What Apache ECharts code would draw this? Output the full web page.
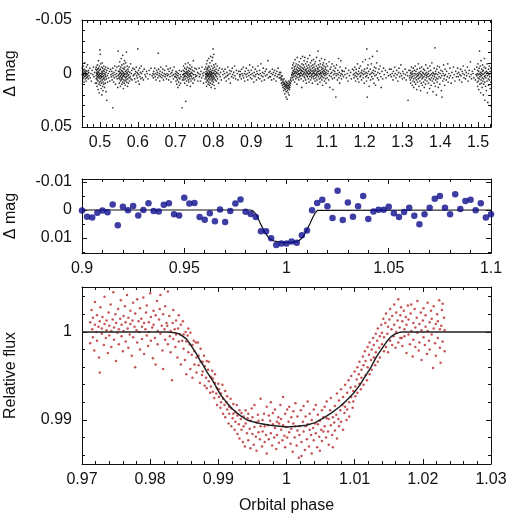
<!DOCTYPE html>
<html>
<head>
<meta charset="utf-8">
<script src="https://cdn.jsdelivr.net/npm/echarts@6/dist/echarts.min.js"></script>
<style>
  html, body { margin: 0; padding: 0; background: #fff; }
  #chart { width: 510px; height: 517px; }
</style>
</head>
<body>
<div id="chart"></div>
<script>
// top panel: [phase * 1000, delta mag in mmag]
const topPoints = [
  [452,-2],[452,3],[453,-5],[453,1],[454,0],[454,6],[455,-3],[455,-1],[456,4],[456,-7],[457,2],[457,1],[458,-4],[458,8],[459,0],[459,-2],[460,3],[460,-10],[461,5],[461,-1],[462,1],[462,-3],[463,7],[463,2],[464,-6],[464,0],[465,-2],[465,4],[466,1],[467,-8],[467,3],[468,0],[469,5],[469,-3],[470,-1],[471,2],[473,-5],[474,4],[476,0],[477,7],[479,-3],[481,1],[483,-6],[484,3],[486,-1],[488,9],[489,-4],
  [490,2],[490,-6],[490,5],[491,0],[491,9],[491,-3],[492,-1],[492,4],[492,12],[493,-8],[493,1],[493,6],[494,3],[494,-4],[494,0],[495,15],[495,-2],[495,7],[496,-12],[496,2],[496,-5],[497,10],[497,4],[497,-1],[498,1],[498,18],[498,-7],[499,3],[499,-3],[499,8],[500,-22],[500,0],[500,5],[501,-18],[501,11],[501,-4],[502,2],[502,7],[502,-9],[503,14],[503,0],[503,4],[504,-6],[504,3],[504,9],[505,-2],[505,20],[505,1],[506,6],[506,-10],[506,-1],[507,12],[507,3],[507,-5],[508,0],[508,8],[508,16],[509,-3],[509,5],[510,2],[510,-7],[510,10],[511,4],[511,-2],[512,13],[512,0],[513,-4],[513,6],[514,1],[514,9],[515,-6],[515,3],[516,17],[516,-1],[517,5],[518,25],[518,-3],[519,2],[520,8],[521,-5],[522,0],[523,4],[525,-2],[526,7],[528,-4],[529,1],
  [530,3],[531,-2],[532,6],[533,0],[534,32],[534,-5],[535,2],[536,8],[537,-1],[538,4],[539,-7],[540,1],[541,10],[542,-3],[543,3],[544,0],[545,-6],[546,5],[547,13],[548,-21],[548,2],[549,-2],
  [550,1],[550,-7],[550,4],[551,9],[551,-2],[552,0],[552,5],[552,-11],[553,3],[553,-4],[554,7],[554,-1],[554,12],[555,-6],[555,2],[556,0],[556,-14],[556,6],[557,4],[557,-3],[558,10],[558,1],[558,-8],[559,-2],[559,5],[560,3],[560,-17],[560,8],[561,0],[561,-5],[562,14],[562,2],[562,-1],[563,-9],[563,6],[564,1],[564,-4],[564,9],[565,-12],[565,3],[566,0],[566,7],[566,-6],[567,11],[567,-2],[568,4],[568,-10],[569,1],[569,6],[570,-20],[570,-3],[570,3],[571,8],[571,-1],[572,0],[572,-7],[573,5],[573,12],[574,-4],[574,2],[575,-2],[575,9],[576,1],[577,-6],[577,4],[578,7],[579,-1],[580,3],[581,-9],[582,5],[583,0],[584,-3],[585,6],[587,-5],[588,2],
  [590,1],[591,-4],[592,5],[593,0],[594,-2],[595,8],[596,-6],[597,2],[598,-1],[599,4],[600,-23],[600,0],[601,7],[602,-3],[603,1],[604,10],[605,-5],[606,3],[607,-1],[608,5],[609,-7],[610,0],[612,4],[613,-2],[615,6],[617,-4],[619,1],[621,3],[623,-2],[625,0],[627,5],[630,-3],[632,1],[635,-5],[638,2],
  [640,0],[641,4],[642,-2],[643,1],[645,-5],[646,3],[647,0],[648,6],[650,-3],[651,1],[652,-1],[653,4],[654,-19],[655,-4],[656,2],[657,0],[658,7],[659,-2],[660,3],[661,-6],[662,1],[664,4],[665,-1],[666,-4],[667,2],[668,6],[670,0],[671,-3],[672,3],[673,1],[675,-7],[676,5],[677,0],[678,2],[680,-4],[681,1],[682,6],[683,-2],[685,3],[686,-5],[687,0],[688,8],[690,-1],[691,2],[692,-3],[694,5],[695,1],[696,-6],[698,3],[699,0],
  [700,3],[701,7],[701,-2],[702,1],[703,10],[703,4],[704,-1],[705,6],[706,13],[706,2],[707,0],[708,8],[709,4],[710,11],[710,-3],[711,5],[712,1],[713,9],[714,3],[715,-2],[717,32],[718,6],[719,1],
  [720,-3],[720,4],[721,1],[721,-7],[722,6],[722,0],[723,-2],[723,3],[724,9],[724,-5],[725,0],[725,2],[726,-9],[726,5],[727,26],[727,-1],[728,3],[728,-4],[729,7],[729,0],[730,-2],[730,11],[731,1],[731,-6],[732,4],[732,-1],[733,-10],[733,2],[734,6],[734,-3],[735,0],[735,8],[736,-5],[736,3],[737,1],[737,-2],[738,5],[738,-8],[739,0],[739,12],[740,-4],[740,2],[741,7],[742,-1],[742,3],[743,-6],[744,0],[744,5],[745,-3],[746,9],[747,-12],[747,1],[748,4],[749,-2],[750,6],[751,-5],[752,1],[753,3],[755,-4],[756,2],[758,-1],[759,7],
  [761,0],[762,-5],[763,3],[765,1],[766,7],[767,-2],[769,4],[770,-6],[771,0],[773,2],[774,9],[775,-1],[777,-4],[778,5],[779,1],
  [780,3],[780,-6],[780,0],[781,8],[781,-2],[781,4],[782,-9],[782,1],[782,12],[783,-4],[783,6],[783,0],[784,2],[784,-12],[784,-1],[785,7],[785,3],[785,-5],[786,10],[786,0],[786,-3],[787,-7],[787,5],[787,1],[788,-14],[788,2],[788,8],[789,-2],[789,4],[789,-6],[790,0],[790,11],[790,-1],[791,-10],[791,6],[791,3],[792,1],[792,-4],[792,9],[793,-16],[793,2],[793,-2],[794,5],[794,13],[794,0],[795,-7],[795,3],[795,-1],[796,7],[796,-12],[796,1],[797,-3],[797,10],[797,4],[798,-15],[798,0],[798,6],[799,-23],[799,2],[799,-5],[800,8],[800,-1],[800,3],[801,-18],[801,5],[801,-8],[802,0],[802,11],[802,-3],[803,4],[803,-6],[804,1],[804,14],[805,-2],[805,6],[806,-9],[806,2],[807,0],[807,-4],[808,7],[809,-1],[809,3],[810,-7],[811,5],[812,0],[813,-3],[814,9],[815,1],[816,-5],[818,3],[819,-1],[821,6],[823,-4],[825,1],[827,-2],[829,4],
  [830,0],[831,-4],[833,3],[834,7],[836,-1],[837,2],[838,-6],[840,1],[841,5],[843,-3],[844,0],[845,9],[847,-2],[848,3],[850,-5],[851,1],[853,4],[854,-1],[856,-7],[857,2],[859,5],[861,-3],[863,0],[865,6],[867,-2],[869,1],
  [870,3],[871,-2],[872,1],[874,5],[875,-4],[876,0],[878,2],[879,-6],[880,4],[882,0],[883,7],[884,-2],[886,1],[887,-5],[888,3],[890,0],[891,6],[892,-3],[894,2],[895,-1],[896,-8],[898,4],[899,1],[900,-3],[902,5],[903,0],[904,-6],[906,2],[907,8],[908,-1],[910,3],[911,-4],[912,1],[914,6],[915,-2],[916,0],[918,-7],[919,4],[920,1],[922,-3],[923,5],[924,0],[926,-9],[927,2],[928,7],[930,-1],[931,3],[932,-5],[934,0],[935,6],[937,-2],[938,2],[940,-4],[942,1],[944,-12],[945,4],[947,-1],[949,3],
  [950,-2],[951,3],[953,0],[954,6],[956,-4],[957,1],[959,-1],[960,5],[962,-3],[963,2],[965,0],[966,7],[968,-2],[969,3],[971,-5],[972,1],[974,4],[975,-1],
  [976,1],[977,4],[978,-1],[979,6],[980,3],[980,9],[981,5],[982,11],[982,2],[983,8],[984,13],[984,6],[985,10],[986,16],[986,8],[987,12],[987,5],[988,14],[988,10],[989,19],[989,9],[990,12],[990,15],[991,7],[991,11],[992,22],[992,13],[993,10],[993,17],[994,8],[994,12],[995,14],[995,24],[996,11],[996,16],[997,9],[997,13],[998,18],[998,11],[999,7],[999,14],[1000,12],[1000,20],[1001,10],[1001,15],[1002,8],[1002,13],[1003,11],[1004,6],[1004,9],[1005,4],[1006,7],[1007,1],
  [1008,2],[1008,-5],[1009,-1],[1009,4],[1010,-8],[1010,0],[1011,-3],[1011,6],[1012,1],[1012,-10],[1013,-2],[1013,3],[1014,-6],[1014,0],[1015,8],[1015,-4],[1016,-1],[1016,-13],[1017,2],[1017,-7],[1018,5],[1018,-2],[1019,0],[1019,-9],[1020,-4],[1020,3],[1021,-1],[1021,10],[1022,-6],[1022,-15],[1023,1],[1023,-3],[1024,4],[1024,-8],[1025,-2],[1025,0],[1026,6],[1026,-5],[1027,-11],[1027,1],[1028,-3],[1028,3],[1029,-7],[1029,0],[1030,2],[1030,-4],[1031,-14],[1031,-1],[1032,5],[1032,-6],[1033,0],[1033,-3],[1034,13],[1034,-9],[1035,-2],[1035,2],[1036,-5],[1036,-16],[1037,1],[1037,-2],[1038,7],[1038,-8],[1039,-4],[1039,0],[1040,-12],[1040,3],[1041,-1],[1041,-6],[1042,4],[1042,-15],[1043,-3],[1043,1],[1044,-9],[1044,6],[1045,0],[1045,-4],[1046,-2],[1046,9],[1047,-7],[1047,2],[1048,-11],[1048,-1],[1049,3],[1049,-5],[1050,0],[1050,-14],[1051,5],[1051,-3],[1052,-8],[1052,1],[1053,-2],[1053,8],[1054,-6],[1054,0],[1055,-17],[1055,3],[1056,-1],[1056,-4],[1057,6],[1057,-10],[1058,0],[1058,-3],[1059,2],[1059,-7],[1060,-12],[1060,4],[1061,-2],[1061,1],[1062,-5],[1062,9],[1063,0],[1063,-8],[1064,3],[1064,-3],[1065,-1],[1065,-13],[1066,5],[1066,-6],[1067,0],[1067,2],[1068,-9],[1068,-2],[1069,7],[1069,-4],[1070,1],[1070,-11],[1071,-3],[1071,4],[1072,-7],[1072,0],[1073,2],[1073,-15],[1074,-1],[1074,6],[1075,-5],[1075,1],[1076,-2],[1076,10],[1077,-21],[1077,-4],[1078,3],[1078,-8],[1079,0],[1079,-2],[1080,5],[1080,-6],[1081,-12],[1081,1],[1082,-3],[1082,8],[1083,0],[1083,-9],[1084,4],[1084,-1],[1085,-6],[1085,2],[1086,-14],[1086,0],[1087,6],[1087,-4],[1088,-2],[1088,3],[1089,-8],[1089,11],[1090,-1],[1090,-5],[1091,1],[1091,-10],[1092,4],[1092,-3],[1093,0],[1093,-7],[1094,7],[1094,-2],[1095,-13],[1095,2],[1096,-4],[1096,0],[1097,5],[1097,-6],[1098,-1],[1098,9],[1099,-9],[1099,1],[1100,-3],[1101,4],[1102,-7],[1103,0],[1104,-2],[1105,6],[1106,-11],[1107,2],[1108,13],[1109,-4],[1110,0],[1111,-6],[1112,3],[1113,-1],[1114,-9],[1115,5],[1116,15],[1117,-3],[1118,1],[1119,-7],[1120,4],[1121,-2],[1122,0],[1123,-5],[1124,22],[1125,2],[1126,-8],[1127,0],[1128,6],[1129,-3],[1130,1],[1131,-14],[1132,4],[1133,-1],[1134,9],[1135,-6],[1136,2],[1137,-12],[1138,0],[1139,5],[1140,-3],[1141,1],[1142,-2],
  [1144,3],[1146,-2],[1148,1],[1150,-5],[1152,4],[1154,0],[1156,7],[1158,-3],[1160,2],[1163,-1],[1165,5],[1168,-4],
  [1170,1],[1171,-3],[1172,4],[1173,0],[1174,-6],[1175,2],[1176,7],[1177,-1],[1178,-4],[1179,3],[1180,0],[1181,-9],[1182,5],[1183,1],[1184,-2],[1185,8],[1186,-5],[1187,0],[1188,3],[1189,-7],[1190,2],[1191,-1],[1192,6],[1193,-3],[1194,0],[1195,-11],[1196,4],[1197,1],[1198,-2],[1199,9],[1200,-4],[1201,0],[1202,-13],[1203,3],[1204,-1],[1205,7],[1206,-23],[1206,2],[1207,22],[1207,-5],[1208,0],[1209,-8],[1210,4],[1211,-2],[1212,12],[1213,-14],[1214,1],[1215,-4],[1216,6],[1217,0],[1218,-9],[1219,3],[1220,-1],[1221,-16],[1222,5],[1223,-3],[1224,0],[1225,9],[1226,-6],[1227,2],[1228,-2],[1229,11],[1230,-5],[1231,1],[1232,-10],[1233,-21],[1234,4],[1235,-1],[1237,6],[1238,-4],[1240,0],[1241,-7],[1243,3],[1244,13],[1246,-2],[1248,5],[1250,-5],[1252,1],[1255,-3],[1257,4],[1260,-1],[1263,2],[1266,-4],
  [1268,1],[1270,-4],[1271,3],[1273,0],[1275,6],[1276,-2],[1278,2],[1280,-6],[1281,0],[1283,4],[1285,-3],[1286,1],[1288,7],[1290,-1],[1291,-5],[1293,3],[1295,0],[1296,-8],[1298,2],[1300,5],[1301,-2],[1303,0],[1305,4],[1307,-4],[1308,1],[1310,6],[1312,-1],[1314,2],[1315,25],[1317,-3],[1319,4],
  [1320,2],[1320,-3],[1321,6],[1322,0],[1322,9],[1323,-1],[1324,4],[1324,-6],[1325,1],[1326,11],[1326,3],[1327,-2],[1328,7],[1328,0],[1329,-5],[1330,5],[1330,13],[1331,2],[1332,-3],[1332,8],[1333,0],[1334,4],[1334,-7],[1335,10],[1336,1],[1336,-2],[1337,6],[1338,15],[1338,3],[1339,-4],[1340,0],[1340,8],[1341,2],[1342,-9],[1342,5],[1343,1],[1344,12],[1344,-1],[1345,4],[1346,-5],[1346,7],[1347,0],[1348,16],[1348,3],[1349,-2],[1350,9],[1350,1],[1351,-6],[1352,5],[1352,2],[1353,11],[1354,-1],[1354,4],[1355,0],[1356,8],[1356,-4],[1357,3],[1358,13],[1359,1],[1359,-3],[1360,6],[1361,0],[1361,10],[1362,-8],[1363,4],[1363,2],[1364,-1],[1365,7],[1366,18],[1366,1],[1367,-5],[1368,3],[1369,9],[1369,0],[1370,-2],[1371,5],[1372,14],[1372,2],[1373,-7],[1374,6],[1375,1],[1375,-3],[1376,11],[1377,4],[1378,0],[1378,-10],[1379,7],[1380,2],[1381,17],[1381,-1],[1382,5],[1383,0],[1384,-5],[1384,9],[1385,3],[1386,-24],[1386,1],[1387,12],[1388,-2],[1388,6],[1389,0],[1390,20],[1390,4],[1391,-4],[1392,8],[1393,1],[1393,-7],[1394,5],[1395,13],[1396,-1],[1397,3],[1398,-6],[1399,10],[1400,0],[1401,4],[1402,-3],[1403,16],[1404,2],[1405,22],[1406,-2],[1407,7],[1408,0],[1409,-8],[1410,5],[1411,2],[1412,11],[1413,-4],[1414,1],[1416,6],[1417,-2],[1419,3],[1420,-9],[1421,8],[1423,0],[1424,4],[1426,-5],[1427,2],[1429,9],[1431,-1],[1433,4],[1435,-6],[1437,1],[1439,7],[1441,-2],[1443,3],
  [1445,0],[1446,-5],[1448,3],[1449,-1],[1451,6],[1452,1],[1454,-4],[1455,2],[1457,8],[1458,-2],[1460,0],[1461,-7],[1463,4],[1464,1],[1466,-3],[1467,5],[1469,-1],[1470,2],[1472,-6],[1474,7],[1475,0],[1477,-3],[1478,3],[1480,-11],[1482,1],[1483,5],[1485,-2],[1487,0],[1489,4],[1491,-4],[1493,6],[1495,1],
  [1497,2],[1497,-6],[1498,8],[1498,0],[1499,-3],[1499,12],[1500,4],[1500,-9],[1501,1],[1501,7],[1502,-2],[1502,15],[1503,5],[1503,-5],[1504,-21],[1504,0],[1505,10],[1505,3],[1506,-7],[1506,1],[1507,18],[1507,-1],[1508,6],[1508,-12],[1509,2],[1509,9],[1510,-4],[1510,0],[1511,13],[1511,4],[1512,-2],[1512,-8],[1513,7],[1513,1],[1514,20],[1514,-3],[1515,5],[1515,10],[1516,-6],[1516,0],[1517,3],[1517,-14],[1518,25],[1518,8],[1519,-1],[1519,2],[1520,12],[1520,-5],[1521,4],[1522,-2],[1522,16],[1523,0],[1524,7],[1524,-9],[1525,2],[1526,27],[1526,-1],[1527,5],[1528,-4],[1528,11],[1529,1],[1530,-7],[1530,6],[1531,3],[1532,14],[1532,-2],[1533,30],[1533,0],[1534,8],[1534,-5]
];

// middle panel: binned points, delta mag in mmag
const midPhase = [
  0.9, 0.9025, 0.905, 0.9075, 0.91, 0.9125, 0.915, 0.9175, 0.92, 0.9225, 0.925, 0.9275, 0.93, 0.9325, 0.935, 0.9375,
  0.94, 0.9425, 0.945, 0.9475, 0.95, 0.9525, 0.955, 0.9575, 0.96, 0.9625, 0.965, 0.9675, 0.97, 0.9725, 0.975, 0.9775,
  0.98, 0.9825, 0.985, 0.9875, 0.99, 0.9925, 0.995, 0.9975, 1.0, 1.0025, 1.005, 1.0075, 1.01, 1.0125, 1.015, 1.0175,
  1.02, 1.0225, 1.025, 1.0275, 1.03, 1.0325, 1.035, 1.0375, 1.04, 1.0425, 1.045, 1.0475, 1.05, 1.0525, 1.055, 1.0575,
  1.06, 1.0625, 1.065, 1.0675, 1.07, 1.0725, 1.075, 1.0775, 1.08, 1.0825, 1.085, 1.0875, 1.09, 1.0925, 1.095, 1.0975, 1.1
];
const midDmag = [
  0.2, 2.4, 2.7, 1.0, 0.2, 0.8, -2.0, 5.5, -1.2, 0.1, -1.4, 2.0, 0.0, -2.4, 0.4, 0.5,
  -1.9, -2.4, 1.5, 2.0, -4.4, -2.3, -2.5, 2.5, 3.5, 1.2, 4.0, -0.2, 4.3, 0.4, -2.3, -3.8,
  0.6, 1.4, 2.5, 7.6, 7.6, 10.1, 12.5, 12.0, 12.0, 11.3, 11.7, 9.0, 7.3, 0.1, -2.5, -3.7,
  -1.3, 2.9, -6.9, 3.6, -2.7, 2.4, -1.3, -5.0, 3.2, 0.5, -0.1, -0.1, -1.2, 1.2, 2.5, 0.7,
  -0.8, 2.1, 5.1, 1.5, -0.8, -4.0, -5.0, -0.8, 1.5, -5.6, -0.4, -3.2, -3.7, 0.1, -2.4, 2.7, 1.5
];
const midModelPhase = [0.9, 0.9825, 0.9832, 0.9838, 0.9845, 0.9852, 0.986, 0.9872, 0.9885, 0.9897, 0.991, 0.9921, 0.9935, 0.9954, 0.9978, 1.0002, 1.0025, 1.005, 1.0068, 1.0082, 1.0098, 1.0115, 1.0128, 1.0139, 1.0146, 1.0151, 1.0156, 1.1];
const midModelDmag = [0, 0, 0.1, 0.4, 0.9, 1.7, 2.9, 4.8, 6.6, 8.3, 9.6, 10.4, 11.0, 11.3, 11.6, 11.7, 11.6, 11.3, 10.6, 9.5, 7.3, 4.8, 2.8, 1.2, 0.5, 0.15, 0, 0];

// bottom panel: [phase * 10000, relative flux * 10000]
const botPoints = [
  [9712,10011],[9712,9987],[9714,10025],[9715,10003],[9716,9994],[9716,10016],[9718,9979],[9719,10008],[9719,10034],[9721,10000],[9722,9990],[9722,10019],[9724,10006],[9725,9971],[9726,9954],[9726,10012],[9727,10028],[9729,9998],[9729,10004],[9730,10017],[9732,9985],[9733,10009],[9733,10040],[9735,9993],[9736,10013],[9736,10002],[9738,9976],[9739,10022],[9740,10007],[9740,9996],[9742,10031],[9743,10001],[9743,9983],[9745,10014],[9746,10045],[9747,10005],[9747,9991],[9749,10020],[9750,9967],[9750,10010],[9752,9999],[9753,10026],[9754,10003],[9754,9986],[9756,10015],[9757,10036],[9758,9995],[9758,10008],[9760,9978],[9761,10018],[9761,10001],[9763,10029],[9764,9989],[9764,10011],[9766,10042],[9767,10004],[9768,9982],[9768,10016],[9770,9997],[9771,10024],[9771,10009],[9773,9973],[9774,10013],[9775,10033],[9775,9994],[9777,10006],[9778,9960],[9778,10021],[9780,10002],[9781,10037],[9781,9988],[9783,10012],[9784,10000],[9785,10027],[9785,9980],[9787,10015],[9788,10006],[9788,9992],[9790,10039],[9791,10010],[9791,9975],[9793,10003],[9794,10022],[9795,9996],[9795,10030],[9797,9984],[9798,10011],[9798,10000],[9800,10044],[9801,9990],[9801,10017],[9803,10005],[9804,9970],[9805,10024],[9805,10008],[9807,9993],[9808,10019],[9808,9963],[9810,10035],[9811,10001],[9811,9986],[9813,10014],[9814,10026],[9815,9998],[9815,10042],[9817,10007],[9818,9979],[9819,9958],[9819,10020],[9821,10003],[9822,9991],[9822,10029],[9824,10010],
  [9825,10007],[9826,10046],[9826,9986],[9828,10018],[9829,9995],[9830,10001],[9830,9977],[9832,9945],[9833,10010],[9834,9992],[9834,10025],[9836,10003],[9837,9983],[9838,10013],[9838,9997],[9840,9971],[9841,10004],[9842,10019],[9842,9989],[9844,9997],[9845,9963],[9845,10008],[9847,9990],[9848,10012],[9849,9981],[9849,9997],[9851,9968],[9852,10000],[9853,9989],[9853,9952],[9855,9996],[9856,10004],[9856,9977],[9858,9986],[9859,9958],[9859,9999],[9861,9974],[9862,9985],[9862,9948],[9864,9990],[9865,9963],[9865,9978],[9867,9988],[9868,9954],[9868,9971],[9870,9988],[9871,9962],[9871,9973],[9873,9942],[9874,9966],[9874,9981],[9876,9951],[9877,9966],[9877,9955],[9879,9973],[9880,9939],[9880,9961],[9882,9948],[9883,9967],[9883,9936],[9885,9957],[9886,9944],[9886,9966],[9888,9931],[9889,9949],[9889,9938],[9891,9956],[9892,9932],[9892,9947],[9894,9925],[9895,9942],[9895,9952],[9897,9930],[9898,9936],[9898,9917],[9900,9941],[9901,9926],[9901,9935],[9903,9914],[9904,9930],[9904,9920],[9906,9940],[9907,9907],[9907,9924],[9909,9917],[9910,9933],[9910,9903],[9912,9920],[9913,9912],[9913,9927],[9915,9896],[9916,9915],[9916,9907],[9918,9924],[9919,9893],[9919,9913],[9921,9902],[9922,9918],[9922,9907],[9924,9889],[9925,9909],[9925,9898],[9927,9917],[9928,9884],[9928,9905],[9930,9895],[9931,9911],[9931,9879],[9933,9901],[9934,9889],[9934,9908],[9936,9875],[9937,9893],[9937,9904],[9939,9870],[9940,9896],[9940,9911],[9942,9885],
  [9943,9902],[9944,9877],[9944,9907],[9946,9890],[9947,9868],[9947,9899],[9949,9913],[9950,9884],[9950,9903],[9952,9872],[9953,9892],[9953,9917],[9955,9881],[9956,9897],[9956,9865],[9958,9906],[9959,9886],[9959,9899],[9961,9878],[9962,9893],[9962,9924],[9964,9870],[9965,9900],[9965,9887],[9967,9907],[9968,9875],[9968,9893],[9970,9883],[9971,9915],[9971,9862],[9973,9894],[9974,9905],[9974,9878],[9976,9899],[9977,9885],[9977,9920],[9979,9871],[9980,9895],[9980,9908],[9982,9880],[9983,9891],[9983,9912],[9985,9867],[9986,9898],[9986,9883],[9988,9903],[9989,9874],[9989,9896],[9991,9917],[9992,9889],[9992,9901],[9994,9877],[9995,9894],[9995,9926],[9997,9882],[9998,9907],[9998,9869],[10000,9892],[10001,9912],[10001,9880],[10003,9898],[10004,9886],[10004,9915],[10006,9873],[10007,9903],[10007,9890],[10009,9864],[10010,9896],[10010,9910],[10012,9880],[10013,9893],[10013,9919],[10015,9871],[10016,9888],[10016,9904],[10018,9857],[10019,9893],[10019,9883],[10021,9911],[10022,9859],[10022,9875],[10024,9898],[10025,9887],[10025,9916],[10027,9866],[10028,9893],[10028,9904],[10030,9878],[10031,9895],[10031,9921],[10033,9870],[10034,9889],[10034,9907],[10036,9883],[10037,9900],[10037,9862],[10039,9891],[10040,9912],[10040,9877],[10042,9896],[10043,9885],[10043,9917],[10045,9869],[10046,9895],[10046,9906],[10048,9881],[10049,9899],[10049,9865],[10051,9889],[10052,9911],[10052,9876],[10054,9903],[10054,9887],
  [10056,9915],[10056,9893],[10058,9880],[10059,9902],[10059,9921],[10061,9887],[10062,9901],[10062,9872],[10064,9911],[10065,9894],[10065,9925],[10067,9883],[10068,9903],[10068,9869],[10070,9897],[10071,9916],[10071,9888],[10073,9906],[10074,9930],[10074,9879],[10076,9901],[10077,9922],[10077,9893],[10079,9911],[10080,9935],[10080,9898],[10082,9917],[10083,9889],[10083,9926],[10085,9908],[10086,9940],[10086,9915],[10088,9900],[10089,9931],[10089,9912],[10091,9945],[10092,9920],[10092,9904],[10094,9937],[10095,9926],[10095,9950],[10097,9914],[10098,9933],[10098,9921],[10100,9955],[10101,9938],[10101,9927],[10103,9946],[10104,9960],[10104,9931],[10106,9952],[10107,9941],[10107,9966],[10109,9935],[10110,9957],[10110,9948],[10112,9972],[10113,9940],[10113,9962],[10115,9978],[10116,9951],[10116,9967],[10118,9945],[10119,9983],[10119,9960],[10121,9974],[10122,9952],[10122,9988],[10124,9968],[10125,9980],[10125,9957],[10127,9993],[10128,9971],[10128,9985],[10130,9962],[10131,9998],[10131,9977],[10133,9990],[10134,9966],[10134,10004],[10136,9982],[10137,9995],[10137,9971],[10139,10008],[10140,9986],[10140,9999],[10142,10015],[10143,9978],[10143,9994],[10145,10010],[10146,9983],[10146,10021],[10148,9998],[10149,10006],[10149,9977],[10151,10014],[10152,9990],[10152,10026],[10154,10003],[10155,9985],[10155,10018],[10157,9995],[10158,10031],[10158,10008],[10160,9982],[10161,10022],[10161,10000],[10163,10013],[10164,9988],[10164,10037],[10166,10005],[10167,9993],[10167,10019],[10168,10028],
  [10169,9993],[10170,10012],[10170,9984],[10172,10024],[10173,10003],[10173,9995],[10175,10017],[10176,9976],[10176,10008],[10178,10030],[10179,9997],[10179,10014],[10181,9986],[10182,10021],[10183,10031],[10183,10001],[10185,9972],[10186,10010],[10186,9991],[10188,10026],[10189,10005],[10189,9983],[10191,10016],[10192,9999],[10192,10035],[10194,9979],[10195,10009],[10195,9988],[10197,10022],[10198,10002],[10198,9968],[10200,10013],[10201,9994],[10201,10027],[10203,9985],[10204,10006],[10204,10019],[10206,9975],[10207,10001],[10207,10033],[10209,9990],[10210,10011],[10210,9980],[10212,10024],[10213,9997],[10213,10015],[10215,9959],[10216,10004],[10216,10029],[10218,9987],[10219,10009],[10219,9973],[10221,10020],[10222,9993],[10222,10012],[10224,10036],[10225,9982],[10225,10003],[10226,9965],[10227,10007],[10228,10025],[10229,10032],[10229,9989],[10231,10016],[10232,10002],[10232,9978]
];
const botModelPhase = [0.97, 0.9824, 0.983, 0.9836, 0.9842, 0.9848, 0.9853, 0.9858, 0.9863, 0.9868, 0.9873, 0.9878, 0.9883, 0.9888, 0.9893, 0.9898, 0.9903, 0.9908, 0.9914, 0.992, 0.9927, 0.9934, 0.9942, 0.9951, 0.9961, 0.9976, 1.0, 1.0015, 1.0029, 1.0042, 1.0054, 1.0066, 1.0078, 1.0088, 1.0098, 1.0107, 1.0115, 1.0124, 1.0132, 1.014, 1.0147, 1.0154, 1.016, 1.0166, 1.017, 1.03];
const botModelFlux = [1, 1, 0.99995, 0.9999, 0.9998, 0.9995, 0.9992, 0.9987, 0.9981, 0.9975, 0.9968, 0.9962, 0.9955, 0.9949, 0.9943, 0.9936, 0.9929, 0.9924, 0.9918, 0.9913, 0.9908, 0.9904, 0.99, 0.9898, 0.9896, 0.9894, 0.9892, 0.9893, 0.9894, 0.9897, 0.9902, 0.9908, 0.9915, 0.9922, 0.993, 0.9939, 0.9949, 0.996, 0.9972, 0.9981, 0.9989, 0.9995, 0.9998, 0.99995, 1, 1];

// tick labels
const topXLabels = [0.5, 0.6, 0.7, 0.8, 0.9, 1, 1.1, 1.2, 1.3, 1.4, 1.5];
const topYLabels = [-0.05, 0, 0.05];
const midXLabels = [0.9, 0.95, 1, 1.05, 1.1];
const midYLabels = [-0.01, 0, 0.01];
const botXLabels = [0.97, 0.98, 0.99, 1, 1.01, 1.02, 1.03];
const botYLabels = [0.99, 1];

const FONT = 'Liberation Sans, Arial, Helvetica, sans-serif';
const INK = '#111';
const fmt = v => String(+(+v).toFixed(4));

// minor tick positions on multiples of step
function steps(min, max, step) {
  const out = [];
  for (let k = Math.ceil(min / step - 1e-6); k * step <= max + 1e-9; k++) out.push(+(k * step).toFixed(6));
  return out;
}

const panels = [
  { rect: { top: 20, height: 107 }, x: [0.4524, 1.5344], y: [-0.05, 0.05], inv: true,
    xMajor: topXLabels, yMajor: topYLabels, xStep: 1 / 60, yStep: 0.01, yName: 'Δ mag' },
  { rect: { top: 179, height: 74 }, x: [0.9, 1.1], y: [-0.0111, 0.0154], inv: true,
    xMajor: midXLabels, yMajor: midYLabels, xStep: 0.01, yStep: 0.005, yName: 'Δ mag' },
  { rect: { top: 287, height: 177 }, x: [0.97, 1.03], y: [0.985, 1.0051], inv: false,
    xMajor: botXLabels, yMajor: botYLabels, xStep: 0.002, yStep: 0.002, yName: 'Relative flux', xName: 'Orbital phase' }
];

const grid = [], xAxis = [], yAxis = [];
const line = { color: INK, width: 1 };
const label = { fontSize: 16, color: INK, fontFamily: FONT };

panels.forEach((p, i) => {
  const g = { left: 82, width: 409, top: p.rect.top, height: p.rect.height, outerBoundsMode: 'none' };
  grid.push(Object.assign({}, g), Object.assign({}, g));
  const xMinor = steps(p.x[0], p.x[1], p.xStep);
  const yMinor = steps(p.y[0], p.y[1], p.yStep);
  const base = { type: 'value', splitLine: { show: false }, silent: true };
  // major grid carries the box, labels and long ticks; the minor grid only short ticks
  xAxis.push(
    Object.assign({}, base, {
      gridIndex: 2 * i, position: 'bottom', min: p.x[0], max: p.x[1],
      name: p.xName || '', nameLocation: 'middle', nameGap: 34,
      nameTextStyle: label,
      axisLine: { onZero: false, lineStyle: line },
      axisTick: { inside: true, length: 5, customValues: p.xMajor, lineStyle: line },
      axisLabel: Object.assign({ customValues: p.xMajor, formatter: fmt, margin: 8, hideOverlap: false }, label)
    }),
    Object.assign({}, base, {
      gridIndex: 2 * i, position: 'top', min: p.x[0], max: p.x[1],
      axisLine: { onZero: false, lineStyle: line },
      axisTick: { inside: true, length: 5, customValues: p.xMajor, lineStyle: line },
      axisLabel: { show: false }
    }),
    Object.assign({}, base, {
      gridIndex: 2 * i + 1, position: 'bottom', min: p.x[0], max: p.x[1],
      axisLine: { show: false, onZero: false },
      axisTick: { inside: true, length: 3, customValues: xMinor, lineStyle: line },
      axisLabel: { show: false }
    }),
    Object.assign({}, base, {
      gridIndex: 2 * i + 1, position: 'top', min: p.x[0], max: p.x[1],
      axisLine: { show: false, onZero: false },
      axisTick: { inside: true, length: 3, customValues: xMinor, lineStyle: line },
      axisLabel: { show: false }
    })
  );
  yAxis.push(
    Object.assign({}, base, {
      gridIndex: 2 * i, position: 'left', min: p.y[0], max: p.y[1], inverse: p.inv,
      name: p.yName, nameLocation: 'middle', nameGap: 63,
      nameTextStyle: label,
      axisLine: { onZero: false, lineStyle: line },
      axisTick: { inside: true, length: 5, customValues: p.yMajor, lineStyle: line },
      axisLabel: Object.assign({ customValues: p.yMajor, formatter: fmt, margin: 10, hideOverlap: false }, label)
    }),
    Object.assign({}, base, {
      gridIndex: 2 * i, position: 'right', min: p.y[0], max: p.y[1], inverse: p.inv,
      axisLine: { onZero: false, lineStyle: line },
      axisTick: { inside: true, length: 5, customValues: p.yMajor, lineStyle: line },
      axisLabel: { show: false }
    }),
    Object.assign({}, base, {
      gridIndex: 2 * i + 1, position: 'left', min: p.y[0], max: p.y[1], inverse: p.inv,
      axisLine: { show: false, onZero: false },
      axisTick: { inside: true, length: 3, customValues: yMinor, lineStyle: line },
      axisLabel: { show: false }
    }),
    Object.assign({}, base, {
      gridIndex: 2 * i + 1, position: 'right', min: p.y[0], max: p.y[1], inverse: p.inv,
      axisLine: { show: false, onZero: false },
      axisTick: { inside: true, length: 3, customValues: yMinor, lineStyle: line },
      axisLabel: { show: false }
    })
  );
});

const chart = echarts.init(document.getElementById('chart'), null, { renderer: 'canvas' });
chart.setOption({
  animation: false,
  backgroundColor: '#fff',
  grid, xAxis, yAxis,
  series: [
    {
      type: 'scatter', xAxisIndex: 0, yAxisIndex: 0, symbolSize: 1.7,
      itemStyle: { color: '#000' },
      data: topPoints.map(([p, m]) => [p / 1000, m / 1000])
    },
    {
      type: 'line', xAxisIndex: 4, yAxisIndex: 4, showSymbol: false, z: 2,
      lineStyle: { color: '#111', width: 1.2 },
      data: midModelPhase.map((p, k) => [p, midModelDmag[k] / 1000])
    },
    {
      type: 'scatter', xAxisIndex: 4, yAxisIndex: 4, symbolSize: 6.5, z: 3,
      itemStyle: { color: '#0c0c8c' },
      data: midPhase.map((p, k) => [p, midDmag[k] / 1000])
    },
    {
      type: 'scatter', xAxisIndex: 8, yAxisIndex: 8, symbolSize: 2.5, z: 2,
      itemStyle: { color: '#b8282a' },
      data: botPoints.map(([p, f]) => [p / 10000, f / 10000])
    },
    {
      type: 'line', xAxisIndex: 8, yAxisIndex: 8, showSymbol: false, z: 3,
      lineStyle: { color: '#222', width: 1.5 },
      data: botModelPhase.map((p, k) => [p, botModelFlux[k]])
    }
  ]
});
</script>
</body>
</html>
